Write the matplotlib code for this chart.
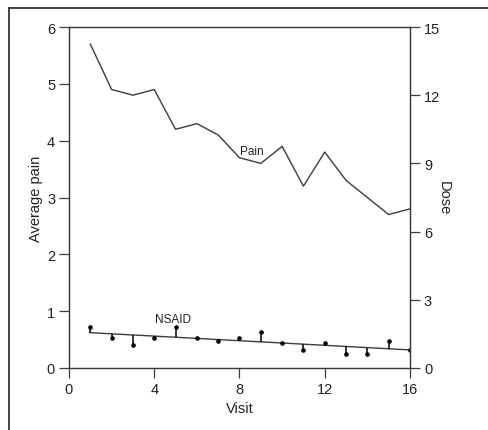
import numpy as np
import matplotlib
matplotlib.use("Agg")
import matplotlib.pyplot as plt
from matplotlib.lines import Line2D

plt.rcParams['font.family'] = ['Liberation Sans', 'DejaVu Sans']

visits = np.arange(1, 17)
pain = [5.7, 4.9, 4.8, 4.9, 4.2, 4.3, 4.1, 3.7, 3.6, 3.9, 3.2, 3.8, 3.3, 3.0, 2.7, 2.8]
dose = [1.8, 1.3, 1.0, 1.3, 1.8, 1.3, 1.2, 1.3, 1.6, 1.1, 0.8, 1.1, 0.6, 0.6, 1.2, 0.8]

xticks = [0, 4, 8, 12, 16]
yticks_left = [0, 1, 2, 3, 4, 5, 6]
yticks_right = [0, 3, 6, 9, 12, 15]

col = '#3c3c3c'
fig = plt.figure(figsize=(4.89, 4.31), dpi=100)
ax = fig.add_axes([69/489, 1-369/431, (410-69)/489, (369-28)/431])
ax2 = ax.twinx()

ax.plot(visits, pain, color=col, lw=1.0)
ax.set_xlim(0, 16)
ax.set_ylim(0, 6)
ax.set_xticks(xticks)
ax.set_yticks(yticks_left)
ax.set_xlabel('Visit', fontsize=10.5, color='#222222', labelpad=4)
ax.set_ylabel('Average pain', fontsize=10.5, color='#222222', labelpad=3)

# NSAID dose with fitted line and residual stems
d = np.array(dose)
slope, intercept = np.polyfit(visits, d, 1)
fit = slope * visits + intercept
ax2.plot(visits, fit, color=col, lw=1.0)
ax2.vlines(visits, fit, d, color='black', lw=1.1)
ax2.plot(visits, d, 'o', color='black', ms=2.3)
ax2.set_ylim(0, 15)
ax2.set_yticks(yticks_right)
ax2.set_ylabel('Dose', fontsize=10.5, color='#222222', rotation=270, labelpad=8)

ax.text(8.6, 3.82, 'Pain', fontsize=8.5, color='#222222', ha='center', va='center')
ax.text(4.88, 0.86, 'NSAID', fontsize=8.5, color='#222222', ha='center', va='center')

for a in (ax, ax2):
    for s in a.spines.values():
        s.set_color(col)
        s.set_linewidth(0.9)
    a.tick_params(direction='out', length=7, width=0.9, color=col, labelsize=10.5,
                  labelcolor='#222222', pad=3)

# figure border (top and left visible)
fig.add_artist(Line2D([8.5/489, 1.0], [1-8.5/431, 1-8.5/431], transform=fig.transFigure, color='#333333', lw=1.3))
fig.add_artist(Line2D([8.5/489, 8.5/489], [0, 1-8.5/431], transform=fig.transFigure, color='#333333', lw=1.3))

fig.savefig('out.png', dpi=100)
